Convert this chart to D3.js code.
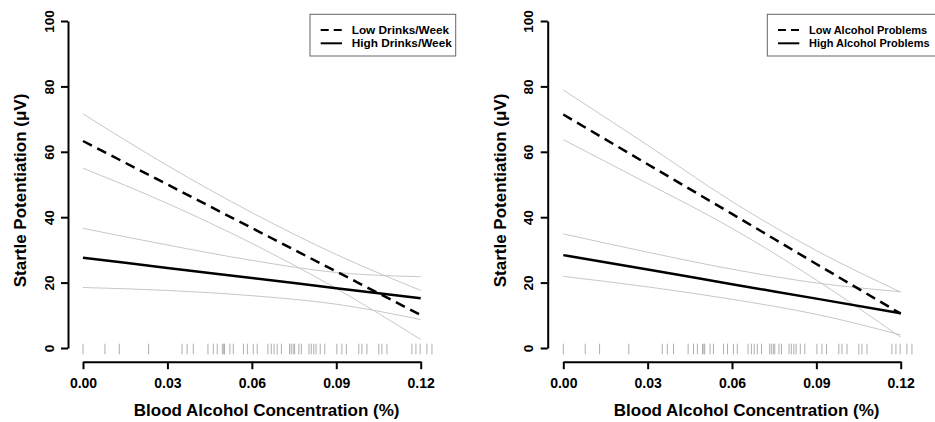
<!DOCTYPE html>
<meta charset="utf-8">
<style>
body{ margin:0; background:#fff; }
svg{ font-family:"Liberation Sans", Arial, sans-serif; }
.axis path, .axis line{ stroke:#000; stroke-width:2px; }
.axis text{ font-family:"Liberation Sans", Arial, sans-serif; font-weight:bold; fill:#000; }
.title{ font-weight:bold; text-anchor:middle; }
.ci{ fill:none; stroke:#c8c8c8; stroke-width:1px; }
.fit{ fill:none; stroke:#000; stroke-width:2.5px; }
.rug{ stroke:#aeaeae; stroke-width:1px; }
.legend rect{ fill:#fff; stroke:#666; stroke-width:1px; }
.legend text{ font-weight:bold; }
</style>
<body>
<script src="https://d3js.org/d3.v7.min.js"></script>
<script>

var bacTicks = [0, 0.03, 0.06, 0.09, 0.12];
var yTicks = [0, 20, 40, 60, 80, 100];
// BAC values where the fitted lines / bands were read
var bacGrid = [0, 0.03, 0.06, 0.09, 0.12];

// left panel: drinks per week
var drinksLowFit   = [63.3, 50.0, 36.7, 23.4, 10.1];
var drinksLowUpper = [71.6, 55.8, 41.4, 28.6, 17.6];
var drinksLowLower = [55.0, 44.2, 32.0, 18.2, 2.6];
var drinksHighFit   = [27.6, 24.5, 21.4, 18.3, 15.2];
var drinksHighUpper = [36.6, 31.5, 26.8, 23.1, 21.8];
var drinksHighLower = [18.5, 17.6, 16.0, 13.4, 8.7];

// right panel: alcohol problems
var problemsLowFit   = [71.4, 56.2, 41.0, 25.7, 10.5];
var problemsLowUpper = [78.9, 62.0, 44.8, 29.8, 17.1];
var problemsLowLower = [63.7, 50.3, 36.6, 20.8, 3.3];
var problemsHighFit   = [28.4, 24.0, 19.5, 15.1, 10.6];
var problemsHighUpper = [34.9, 29.3, 24.1, 19.9, 17.2];
var problemsHighLower = [21.9, 18.7, 14.9, 10.3, 4.0];

// observed BAC values (rug)
var rugBAC = [0.000, 0.0078, 0.0129, 0.0233, 0.0352, 0.0370, 0.0392, 0.0444, 0.0463, 0.0477,
  0.0495, 0.0500, 0.0503, 0.0522, 0.0534, 0.0570, 0.0584, 0.0605, 0.0619, 0.0657, 0.0669,
  0.0679, 0.0690, 0.0705, 0.0734, 0.0740, 0.0747, 0.0752, 0.0767, 0.0776, 0.0803, 0.0811,
  0.0820, 0.0828, 0.0843, 0.0859, 0.0902, 0.0920, 0.0936, 0.0980, 0.0991, 0.1009, 0.1051,
  0.1062, 0.1080, 0.1169, 0.1183, 0.1198, 0.1222, 0.1240];

var panels = [
  {x0:83, x1:420.7, yAxisX:68, titleX:266.7,
   legend:{x:310, w:145.7, size:"11.8px", labels:["Low Drinks/Week","High Drinks/Week"]},
   low:[drinksLowFit, drinksLowUpper, drinksLowLower],
   high:[drinksHighFit, drinksHighUpper, drinksHighLower]},
  {x0:563.3, x1:900.7, yAxisX:547.7, titleX:746.7,
   legend:{x:767.3, w:180, size:"11px", labels:["Low Alcohol Problems","High Alcohol Problems"]},
   low:[problemsLowFit, problemsLowUpper, problemsLowLower],
   high:[problemsHighFit, problemsHighUpper, problemsHighLower]}
];

var svg = d3.select("body").append("svg").attr("width", 935).attr("height", 422);

var y = d3.scaleLinear().domain([0, 100]).range([348, 21]);

panels.forEach(function(p){
  var x = d3.scaleLinear().domain([0, 0.12]).range([p.x0, p.x1]);
  var g = svg.append("g");

  var line = d3.line()
    .x(function(d, i){ return x(bacGrid[i]); })
    .y(function(d){ return y(d); })
    .curve(d3.curveMonotoneX);

  // confidence bands
  [p.low[1], p.low[2], p.high[1], p.high[2]].forEach(function(s){
    g.append("path").attr("class","ci").attr("d", line(s));
  });

  // rug
  g.selectAll(".rug").data(rugBAC).enter().append("line")
    .attr("class","rug")
    .attr("x1", function(d){ return x(d); }).attr("x2", function(d){ return x(d); })
    .attr("y1", 343.7).attr("y2", 354.3);

  g.append("path").attr("class","fit").attr("d", line(p.high[0]));
  g.append("path").attr("class","fit").attr("d", line(p.low[0]))
    .attr("stroke-dasharray","10,6");

  // axes
  var ya = g.append("g").attr("class","axis")
    .attr("transform","translate(" + p.yAxisX + ",0)")
    .call(d3.axisLeft(y).tickValues(yTicks).tickSize(7).tickSizeOuter(0).tickFormat(d3.format("d")));
  ya.selectAll("text")
    .attr("x", 0).attr("dy", null)
    .attr("transform","translate(-19,0) rotate(-90)")
    .attr("text-anchor","middle")
    .attr("dominant-baseline","central")
    .style("font-size","13.5px");

  var xa = g.append("g").attr("class","axis")
    .attr("transform","translate(0,361.7)")
    .call(d3.axisBottom(x).tickValues(bacTicks).tickSize(7.5).tickSizeOuter(0).tickFormat(d3.format(".2f")));
  xa.selectAll("text").attr("y", 16).attr("dy", "0.71em").style("font-size","14px");

  // titles
  g.append("text").attr("class","title")
    .attr("x", p.titleX).attr("y", 416)
    .style("font-size","17px")
    .text("Blood Alcohol Concentration (%)");
  g.append("text").attr("class","title")
    .attr("transform","translate(" + (p.yAxisX - 42) + ",190.5) rotate(-90)")
    .style("font-size","17px")
    .text("Startle Potentiation (μV)");

  // legend
  var lg = g.append("g").attr("class","legend");
  lg.append("rect").attr("x", p.legend.x).attr("y", 14.3)
    .attr("width", p.legend.w).attr("height", 41.7);
  p.legend.labels.forEach(function(lbl, i){
    var ly = 30 + i * 13.3;
    lg.append("line").attr("x1", p.legend.x + 10.7).attr("x2", p.legend.x + 32)
      .attr("y1", ly).attr("y2", ly)
      .attr("stroke","#000").attr("stroke-width",2)
      .attr("stroke-dasharray", i == 0 ? "8,5" : null);
    lg.append("text").attr("x", p.legend.x + 41.7).attr("y", ly)
      .attr("dominant-baseline","central")
      .style("font-size", p.legend.size)
      .text(lbl);
  });
});

</script>
</body>
</html>
